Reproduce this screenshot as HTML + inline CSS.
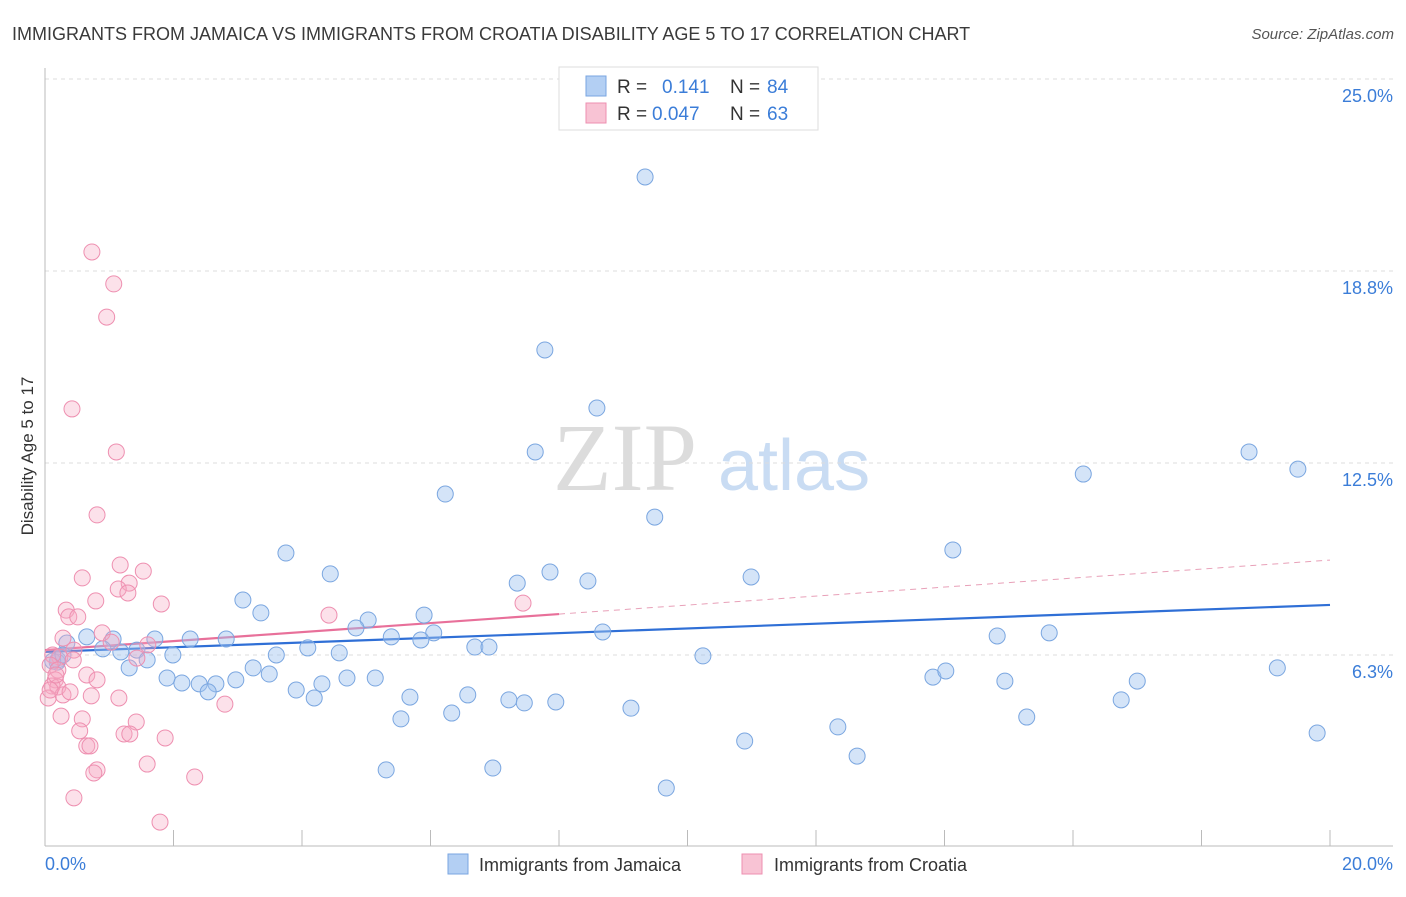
<!DOCTYPE html>
<html><head><meta charset="utf-8"><style>
body{margin:0;background:#fff;font-family:"Liberation Sans",sans-serif;}
svg text{font-family:"Liberation Sans",sans-serif;}
</style></head><body>
<svg id="chart" width="1406" height="892" xmlns="http://www.w3.org/2000/svg">
<text x="12" y="40" font-size="18" fill="#3a3a3a">IMMIGRANTS FROM JAMAICA VS IMMIGRANTS FROM CROATIA DISABILITY AGE 5 TO 17 CORRELATION CHART</text>
<text x="1394" y="39" font-size="15" fill="#555" font-style="italic" text-anchor="end">Source: ZipAtlas.com</text>
<text x="553" y="490" font-size="96" fill="#dcdcdc" font-family="Liberation Serif" style="font-family:'Liberation Serif',serif">ZIP</text>
<text x="718" y="490" font-size="72" fill="#c9dcf3">atlas</text>
<text transform="translate(33,456) rotate(-90)" font-size="17" fill="#333" text-anchor="middle">Disability Age 5 to 17</text>
<g id="grid"></g><g id="axes"></g><g id="trends"></g><g id="pts"></g>
<g>
<rect x="559" y="67" width="259" height="63" fill="#fff" stroke="#ddd"/>
<rect x="586" y="76" width="20" height="20" fill="#b3cff3" stroke="#7aa6e0"/>
<rect x="586" y="103" width="20" height="20" fill="#f8c3d4" stroke="#ee8fb0"/>
<text x="617" y="93" font-size="19" fill="#333">R = </text><text x="662" y="93" font-size="19" fill="#3b7dd8">0.141</text>
<text x="730" y="93" font-size="19" fill="#333">N = </text><text x="767" y="93" font-size="19" fill="#3b7dd8">84</text>
<text x="617" y="120" font-size="19" fill="#333">R = </text><text x="652" y="120" font-size="19" fill="#3b7dd8">0.047</text>
<text x="730" y="120" font-size="19" fill="#333">N = </text><text x="767" y="120" font-size="19" fill="#3b7dd8">63</text>
</g>
<g>
<rect x="448" y="854" width="20" height="20" fill="#b3cff3" stroke="#7aa6e0"/>
<text x="479" y="871" font-size="18" fill="#333">Immigrants from Jamaica</text>
<rect x="742" y="854" width="20" height="20" fill="#f8c3d4" stroke="#ee8fb0"/>
<text x="774" y="871" font-size="18" fill="#333">Immigrants from Croatia</text>
</g>
</svg>
<script>
const yTicks=[6.25,12.5,18.75,25];
const yTickLabels=["6.3%","12.5%","18.8%","25.0%"];
const xTickLabels=["0.0%","20.0%"];
const jamX=[9.34,7.78,8.59,7.63,6.23,9.49,3.75,4.44,7.35,7.86,8.45,10.99,14.13,16.16,18.74,19.50,3.08,3.36,5.03,5.90,4.84,5.39,6.05,5.85,8.68,14.82,15.63,6.69,6.91,4.09,4.58,3.60,10.24,1.71,2.26,2.82,0.65,1.06,0.34,0.20,0.90,1.18,1.43,1.59,1.99,1.31,0.19,3.24,3.49,1.90,2.13,2.40,2.66,2.97,2.54,3.91,4.19,4.31,4.70,5.14,5.68,6.58,7.22,7.46,7.95,9.12,6.33,5.54,13.82,14.02,14.94,17.00,19.18,16.75,15.28,12.34,10.89,12.64,19.80,5.31,6.97,9.67,0.12,0.28];
const jamY=[21.81,16.18,14.29,12.86,11.49,10.74,9.57,8.89,8.59,8.95,8.66,8.79,9.67,12.14,12.86,12.30,8.04,7.62,7.39,7.55,7.13,6.84,6.97,6.74,7.00,6.87,6.97,6.51,6.51,6.48,6.32,6.25,6.22,6.77,6.77,6.77,6.84,6.77,6.64,6.09,6.45,6.35,6.41,6.09,6.25,5.83,6.02,5.83,5.63,5.50,5.34,5.31,5.31,5.44,5.05,5.11,4.85,5.31,5.50,5.50,4.88,4.95,4.79,4.69,4.72,4.52,4.36,4.17,5.53,5.73,5.40,5.40,5.83,4.79,4.23,3.91,3.45,2.96,3.71,2.51,2.57,1.92,6.05,6.25];
const croX=[0.73,1.07,0.96,0.42,1.11,0.81,0.58,1.17,1.53,1.31,1.14,1.29,0.79,0.33,0.37,1.81,0.51,4.42,7.44,0.28,0.89,1.03,1.60,0.45,0.23,0.44,0.12,1.43,0.08,0.20,0.65,0.81,0.16,0.11,0.20,0.05,0.28,0.39,0.72,1.15,2.80,0.25,0.58,1.42,0.54,1.23,1.32,1.87,0.65,0.70,1.59,0.81,0.76,2.33,0.45,1.79,0.08,0.17];
const croY=[19.37,18.33,17.25,14.26,12.86,10.81,8.76,9.18,8.98,8.59,8.40,8.27,8.01,7.71,7.49,7.91,7.49,7.55,7.94,6.80,6.97,6.67,6.58,6.41,6.18,6.09,6.25,6.15,5.92,5.76,5.60,5.44,5.44,5.24,5.21,4.85,4.95,5.05,4.92,4.85,4.65,4.26,4.17,4.07,3.78,3.68,3.68,3.55,3.29,3.29,2.70,2.51,2.41,2.28,1.60,0.81,5.11,5.60];
const jamTrend=[6.35,0.0765];
const croTrend=[6.41,0.1465];
const NS="http://www.w3.org/2000/svg";
const X=v=>45+v*64.25, Y=v=>847-v*30.72;
function mk(t,a,p){const e=document.createElementNS(NS,t);for(const k in a)e.setAttribute(k,a[k]);document.getElementById(p).appendChild(e);return e;}
yTicks.forEach((t,i)=>{
 const g=mk('line',{x1:45,x2:1393,y1:Y(t),y2:Y(t),stroke:'#ddd','stroke-dasharray':'4,4'},'grid');
 
 
 const l=mk('text',{x:1393,y:Y(t)+23,'font-size':18,fill:'#3b7dd8','text-anchor':'end'},'grid');l.textContent=yTickLabels[i];
 
 
});
const ax=mk('line',{x1:45,x2:45,y1:68,y2:846,stroke:'#bbb'},'axes');


const bx=mk('line',{x1:45,x2:1393,y1:846,y2:846,stroke:'#bbb'},'axes');


for(let i=0;i<=10;i++){const t=mk('line',{x1:X(i*2),x2:X(i*2),y1:830,y2:846,stroke:'#bbb'},'axes');
 
 }
const xl0=mk('text',{x:45,y:870,'font-size':18,fill:'#3b7dd8'},'axes');xl0.textContent=xTickLabels[0];


const xl1=mk('text',{x:1393,y:870,'font-size':18,fill:'#3b7dd8','text-anchor':'end'},'axes');xl1.textContent=xTickLabels[1];


jamX.forEach((v,i)=>{const c=mk('circle',{cx:X(v),cy:Y(jamY[i]),r:8,fill:'rgba(160,195,240,0.45)',stroke:'#7aa6e0','stroke-width':1},'pts');
 
 });
croX.forEach((v,i)=>{const c=mk('circle',{cx:X(v),cy:Y(croY[i]),r:8,fill:'rgba(245,170,195,0.35)',stroke:'#ee8fb0','stroke-width':1},'pts');
 
 });
const jt=mk('line',{x1:X(0),y1:Y(jamTrend[0]),x2:X(20),y2:Y(jamTrend[0]+20*jamTrend[1]),stroke:'#2f6fd6','stroke-width':2.2},'trends');


const ct=mk('line',{x1:X(0),y1:Y(croTrend[0]),x2:X(8),y2:Y(croTrend[0]+8*croTrend[1]),stroke:'#e8709a','stroke-width':2.2},'trends');


const cd=mk('line',{x1:X(8),y1:Y(croTrend[0]+8*croTrend[1]),x2:X(20),y2:Y(croTrend[0]+20*croTrend[1]),stroke:'#e8a0b8','stroke-width':1,'stroke-dasharray':'6,5'},'trends');


</script>
</body></html>
